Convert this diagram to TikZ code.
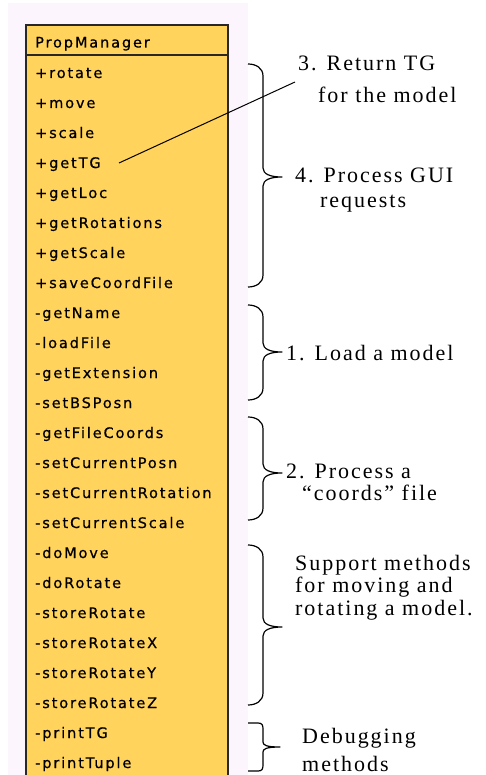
\documentclass[tikz,border=0pt]{standalone}
\usepackage{fontspec}
\newfontfamily\umlfont[LetterSpace=13,FakeBold=0.6]{DejaVu Sans}
\newfontfamily\notefont[LetterSpace=9]{Liberation Serif}
\definecolor{panelpink}{RGB}{253,245,253}
\definecolor{classfill}{RGB}{255,211,92}
\definecolor{classline}{RGB}{40,40,40}
\begin{document}
\begin{tikzpicture}[x=1pt,y=-1pt,
  member/.style={anchor=base west,inner sep=0pt,font=\umlfont\fontsize{14.5}{15}\selectfont},
  note/.style={anchor=base west,inner sep=0pt,align=left,font=\notefont\fontsize{22}{22.5}\selectfont},
  bracepath/.style={draw=black,line width=1.2pt,line join=round},
]
\useasboundingbox (0,0) rectangle (486,775);
\fill[white] (0,0) rectangle (486,775);
\fill[panelpink] (8,3) rectangle (248,775);
% class box
\draw[classline,fill=classfill,line width=1.6pt] (26,25) rectangle (228,778);
\draw[classline,line width=1.6pt] (26,55) -- (228,55);
\node[member] (title) at (35,47.5) {PropManager};
\foreach \n [count=\i from 0] in {+rotate,+move,+scale,+getTG,+getLoc,+getRotations,+getScale,+saveCoordFile,-getName,-loadFile,-getExtension,-setBSPosn,-getFileCoords,-setCurrentPosn,-setCurrentRotation,-setCurrentScale,-doMove,-doRotate,-storeRotate,-storeRotateX,-storeRotateY,-storeRotateZ,-printTG,-printTuple}
  \node[member] (m\i) at (35,78+30*\i) {\n};
% braces
\newcommand\bracedraw[4]{%
  \draw[bracepath] (248,#1) .. controls (256,#1) and (263,#1+4) .. (263,#1+12)
    -- (263,#2-9) .. controls (263,#2-3) and (270,#2) .. (#4,#2)
    .. controls (270,#2) and (263,#2+3) .. (263,#2+9)
    -- (263,#3-12) .. controls (263,#3-4) and (256,#3) .. (248,#3);}
\bracedraw{64}{177}{287}{282}
\bracedraw{305}{352}{400}{282}
\bracedraw{417}{473}{520}{282}
\bracedraw{545}{627}{705}{282}
\draw[bracepath] (248,723) -- (258,723) .. controls (262,723) and (263,725) .. (263,729)
    -- (263,742) .. controls (263,745) and (266,747) .. (280,747)
    .. controls (266,747) and (263,749) .. (263,752)
    -- (263,765) .. controls (263,769) and (262,771) .. (258,771) -- (248,771);
% notes
\node[note] (n3a) at (298,70.5) {3. Return TG};
\node[note] (n3b) at (318,102.5) {for the model};
\node[note] (n4) at (295,183) {4. Process GUI};
\node[note] (n4b) at (320,208) {requests};
\node[note] (n1) at (286,360) {1. Load a model};
\node[note] (n2) at (286,478) {2. Process a};
\node[note] (n2b) at (302,500) {“coords” file};
\node[note] (ns) at (295,615) {Support methods\\for moving and\\rotating a model.};
\node[note] (nd) at (302,743) {Debugging};
\node[note] (nd2) at (302,771) {methods};
% connector getTG -> note 3
\coordinate (tgstart) at (119,163);
\coordinate (tgend) at (295,82);
\draw[black,line width=1pt] (tgstart) -- (tgend);
\end{tikzpicture}
\end{document}
